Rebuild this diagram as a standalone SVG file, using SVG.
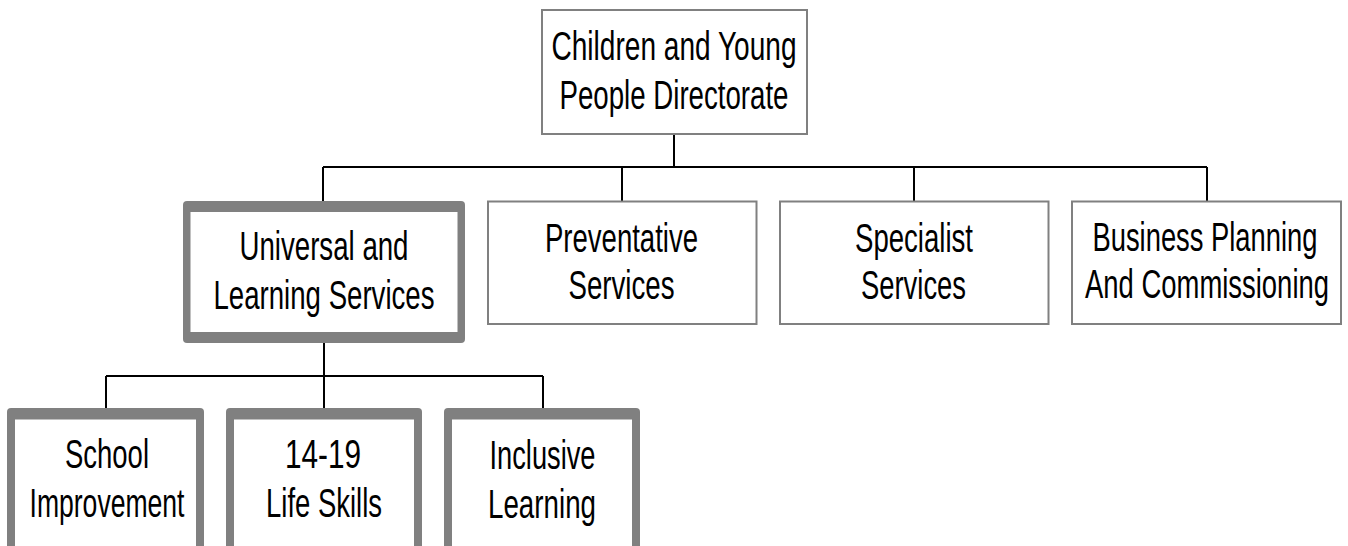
<svg xmlns="http://www.w3.org/2000/svg" width="1348" height="546" viewBox="0 0 1348 546">
<style>
.thin{fill:#fff;stroke:#808080;stroke-width:2}
.outer{fill:#808080}
.inner{fill:#fff}
.t{font-family:"Liberation Sans",Arial,sans-serif;font-size:40px;fill:#000;text-anchor:middle}
.c{stroke:#000;stroke-width:2;fill:none}
</style>
<rect width="1348" height="546" fill="#fff"/>
<g id="connectors">
<path class="c" d="M674,134V167M323,167H1207M323,167V201M622,167V201M914,167V201M1207,167V201"/>
<path class="c" d="M324,343V376M106,376H543M106,376V408M324,376V408M543,376V408"/>
</g>
<g id="directorate">
<rect class="thin" x="542" y="10" width="265" height="124"/>
<text class="t" x="674" y="59.5" textLength="245" lengthAdjust="spacingAndGlyphs">Children and Young</text>
<text class="t" x="674" y="108.5" textLength="229" lengthAdjust="spacingAndGlyphs">People Directorate</text>
</g>
<g id="universal">
<rect class="outer" x="183" y="201" width="282" height="142" rx="4"/>
<rect class="inner" x="190.5" y="212" width="267" height="120"/>
<text class="t" x="324" y="260" textLength="169" lengthAdjust="spacingAndGlyphs">Universal and</text>
<text class="t" x="324" y="308.5" textLength="221" lengthAdjust="spacingAndGlyphs">Learning Services</text>
</g>
<g id="preventative">
<rect class="thin" x="488" y="201.5" width="268.5" height="122.5"/>
<text class="t" x="621.5" y="251.5" textLength="153" lengthAdjust="spacingAndGlyphs">Preventative</text>
<text class="t" x="621.5" y="298.5" textLength="106" lengthAdjust="spacingAndGlyphs">Services</text>
</g>
<g id="specialist">
<rect class="thin" x="780" y="201.5" width="268.5" height="122.5"/>
<text class="t" x="914" y="251.5" textLength="118" lengthAdjust="spacingAndGlyphs">Specialist</text>
<text class="t" x="913.5" y="298.5" textLength="105" lengthAdjust="spacingAndGlyphs">Services</text>
</g>
<g id="business">
<rect class="thin" x="1072" y="201.5" width="269" height="122.5"/>
<text class="t" x="1205" y="250.5" textLength="225" lengthAdjust="spacingAndGlyphs">Business Planning</text>
<text class="t" x="1207" y="298" textLength="244" lengthAdjust="spacingAndGlyphs">And Commissioning</text>
</g>
<g id="school">
<rect class="outer" x="7" y="408" width="197" height="150" rx="4"/>
<rect class="inner" x="15" y="419.5" width="181" height="130"/>
<text class="t" x="107" y="468" textLength="84" lengthAdjust="spacingAndGlyphs">School</text>
<text class="t" x="107" y="517" textLength="155" lengthAdjust="spacingAndGlyphs">Improvement</text>
</g>
<g id="lifeskills">
<rect class="outer" x="226" y="408" width="196" height="150" rx="4"/>
<rect class="inner" x="234" y="419.5" width="180" height="130"/>
<text class="t" x="323" y="468" textLength="76" lengthAdjust="spacingAndGlyphs">14-19</text>
<text class="t" x="324" y="517" textLength="116" lengthAdjust="spacingAndGlyphs">Life Skills</text>
</g>
<g id="inclusive">
<rect class="outer" x="444" y="408" width="196" height="150" rx="4"/>
<rect class="inner" x="452" y="419.5" width="180" height="130"/>
<text class="t" x="542.5" y="469" textLength="106" lengthAdjust="spacingAndGlyphs">Inclusive</text>
<text class="t" x="542" y="518" textLength="108" lengthAdjust="spacingAndGlyphs">Learning</text>
</g>
</svg>
